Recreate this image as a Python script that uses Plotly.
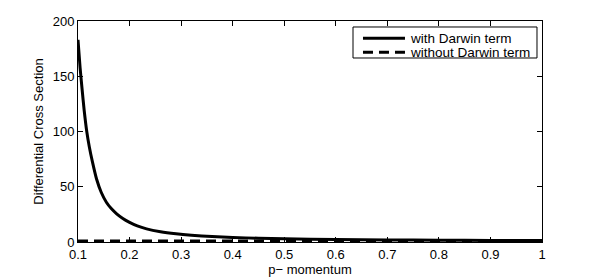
import plotly.graph_objects as go

p_with = [0.1, 0.104, 0.108, 0.112, 0.117, 0.122, 0.128, 0.136, 0.145, 0.155, 0.165, 0.175,
          0.187, 0.2, 0.215, 0.233, 0.26, 0.29, 0.32, 0.36, 0.4, 0.45, 0.5, 0.6, 0.7, 0.8, 0.9, 1.0]
cs_with = [183, 158, 138, 119, 100, 86, 72.5, 57, 45, 36, 30, 25.5,
           21.3, 17.8, 14.6, 11.9, 9.3, 7.4, 6.1, 4.9, 4.1, 3.4, 2.9, 2.25, 1.85, 1.6, 1.4, 1.25]
p_without = [0.1, 0.2, 0.3, 0.4, 0.5, 0.6, 0.7, 0.8, 0.9, 1.0]
cs_without = [0.9, 0.9, 0.9, 0.9, 0.9, 0.9, 0.9, 0.9, 0.9, 0.9]
series_names = ["with Darwin term", "without Darwin term"]

x_ticks = [0.1, 0.2, 0.3, 0.4, 0.5, 0.6, 0.7, 0.8, 0.9, 1.0]
x_labels = ["0.1", "0.2", "0.3", "0.4", "0.5", "0.6", "0.7", "0.8", "0.9", "1"]
y_ticks = [0, 50, 100, 150, 200]

DASH = "10px,6px"

fig = go.Figure()
fig.add_trace(go.Scatter(x=p_with, y=cs_with, mode="lines", name=series_names[0],
                         line=dict(color="black", width=3, shape="spline", smoothing=0.5)))
fig.add_trace(go.Scatter(x=p_without, y=cs_without, mode="lines", name=series_names[1],
                         line=dict(color="black", width=3, dash=DASH)))

# legend box drawn in plot-area (paper) coordinates
box = dict(x0=0.5927, x1=0.9892, y0=0.8326, y1=0.9729)
rows_y = [0.9217, 0.8584]
sample_x = (0.6142, 0.7047)
text_x = 0.7134
fig.add_shape(type="rect", xref="paper", yref="paper", **box,
              line=dict(color="black", width=1), fillcolor="white", layer="above")
for i, (name, y) in enumerate(zip(series_names, rows_y)):
    fig.add_shape(type="line", xref="paper", yref="paper",
                  x0=sample_x[0], x1=sample_x[1], y0=y, y1=y, layer="above",
                  line=dict(color="black", width=3, dash=("solid" if i == 0 else DASH)))
    fig.add_annotation(x=text_x, y=y, xref="paper", yref="paper", text=name,
                       showarrow=False, xanchor="left", yanchor="middle", borderpad=0,
                       font=dict(size=13.5, color="black"))

axis_common = dict(showline=True, linecolor="black", linewidth=1, mirror="ticks",
                   ticks="inside", ticklen=5, tickcolor="black", showgrid=False,
                   zeroline=False, automargin=False, tickfont=dict(size=13, color="black"))
fig.update_layout(
    width=591, height=272,
    margin=dict(l=70, r=57, t=13, b=38, autoexpand=False),
    paper_bgcolor="white", plot_bgcolor="white",
    font=dict(family="Liberation Sans, Arial, sans-serif", size=13, color="black"),
    showlegend=False,
    xaxis=dict(range=[0.1, 1.0], tickvals=x_ticks, ticktext=x_labels,
               title=dict(text="p\u2212 momentum", standoff=3, font=dict(size=13)), **axis_common),
    yaxis=dict(range=[0, 200], tickvals=y_ticks,
               title=dict(text="Differential Cross Section", standoff=6, font=dict(size=13)), **axis_common),
)
fig.write_html("out.html")
